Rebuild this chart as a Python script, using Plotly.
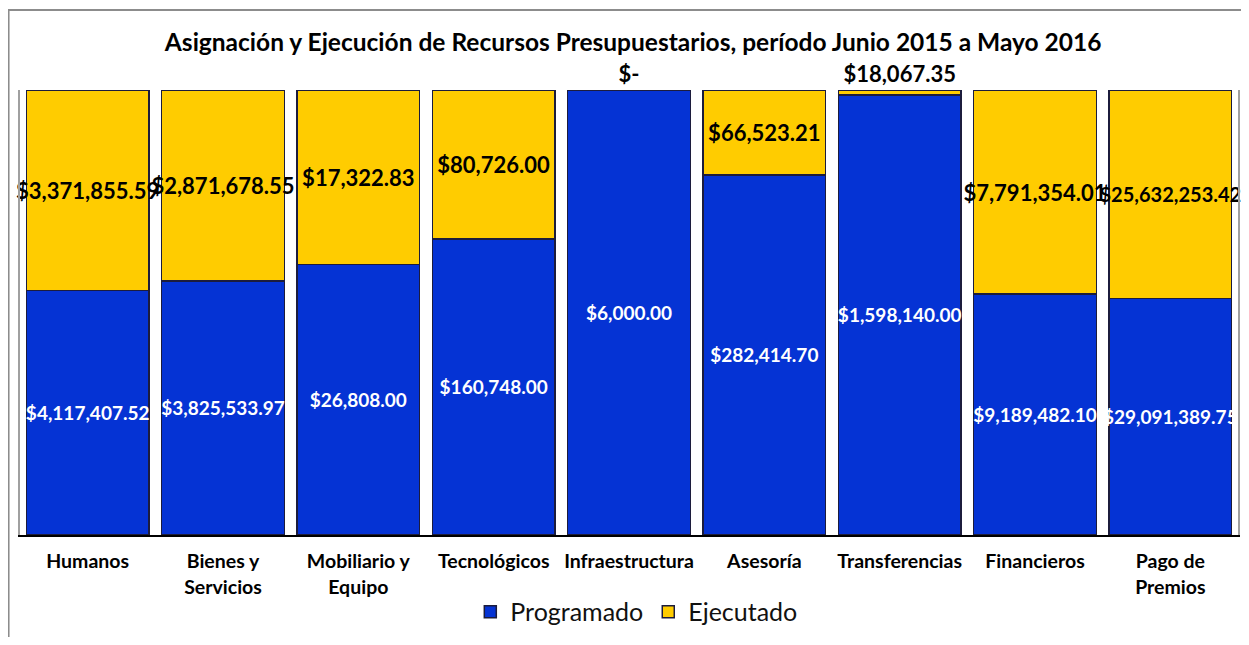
import plotly.graph_objects as go

categorias = ["Humanos", "Bienes y<br>Servicios", "Mobiliario y<br>Equipo", "Tecnológicos",
              "Infraestructura", "Asesoría", "Transferencias", "Financieros", "Pago de<br>Premios"]
programado = [4117407.52, 3825533.97, 26808.00, 160748.00, 6000.00,
              282414.70, 1598140.00, 9189482.10, 29091389.75]
ejecutado = [3371855.59, 2871678.55, 17322.83, 80726.00, 0.0,
             66523.21, 18067.35, 7791354.01, 25632253.42]


def fmt(v):
    return "$-" if v == 0 else f"${v:,.2f}"


FONT = "Lato"
AZUL = "#0533D4"
AMARILLO = "#FFCC00"
BORDE = "#1c1c3c"

# labels sit above the stack when the yellow slice is too thin
pos_ej = ["outside" if e / (p + e) < 0.05 else "inside" for p, e in zip(programado, ejecutado)]
# last label is a bit smaller so it does not run off the right edge
size_ej = [22] * (len(ejecutado) - 1) + [20]

fig = go.Figure()
fig.add_trace(go.Bar(
    x=categorias, y=programado, name="Programado",
    marker=dict(color=AZUL, line=dict(color=BORDE, width=1.5)),
    text=[fmt(v) for v in programado], textposition="inside", textangle=0,
    insidetextanchor="middle", constraintext="none",
    textfont=dict(family=FONT, size=19, color="white", weight="bold"),
    hoverinfo="skip",
))
fig.add_trace(go.Bar(
    x=categorias, y=ejecutado, name="Ejecutado",
    marker=dict(color=AMARILLO, line=dict(color=BORDE, width=1.5)),
    text=[fmt(v) for v in ejecutado], textposition=pos_ej, textangle=0,
    insidetextanchor="middle", constraintext="none", cliponaxis=False,
    insidetextfont=dict(family=FONT, size=size_ej, color="black", weight="bold"),
    outsidetextfont=dict(family=FONT, size=22, color="black", weight="bold"),
    hoverinfo="skip",
))

# page body adds an 8px margin, so the figure is kept inside the window
fig.update_layout(
    barmode="stack", barnorm="percent", bargap=0.094,
    width=1233, height=629,
    margin=dict(l=12, r=1, t=82, b=102),
    paper_bgcolor="white", plot_bgcolor="white",
    font=dict(family=FONT, color="black"),
    title=dict(text="<b>Asignación y Ejecución de Recursos Presupuestarios, período Junio 2015 a Mayo 2016</b>",
               x=0.507, xanchor="center", y=0.946, yanchor="middle",
               font=dict(family=FONT, size=24.5, color="black")),
    legend=dict(orientation="h", x=0.506, xanchor="center", y=-0.173, yanchor="middle",
                font=dict(family=FONT, size=25, color="#111111"), traceorder="normal",
                itemwidth=30),
    shapes=[dict(type="rect", xref="paper", yref="paper",
                 x0=-0.0094, x1=1.05, y0=-0.3, y1=1.18,
                 line=dict(color="#8c8c8c", width=2), layer="below")],
)
fig.update_xaxes(showline=True, linecolor="black", linewidth=2, ticks="",
                 ticklabelstandoff=8,
                 tickfont=dict(family=FONT, size=19.5, color="black", weight="bold"))
fig.update_yaxes(range=[0, 100], showticklabels=False, showgrid=False, zeroline=False,
                 showline=True, linecolor="#a0a0a0", linewidth=2, mirror=True, ticks="")

fig.write_html("out.html")
